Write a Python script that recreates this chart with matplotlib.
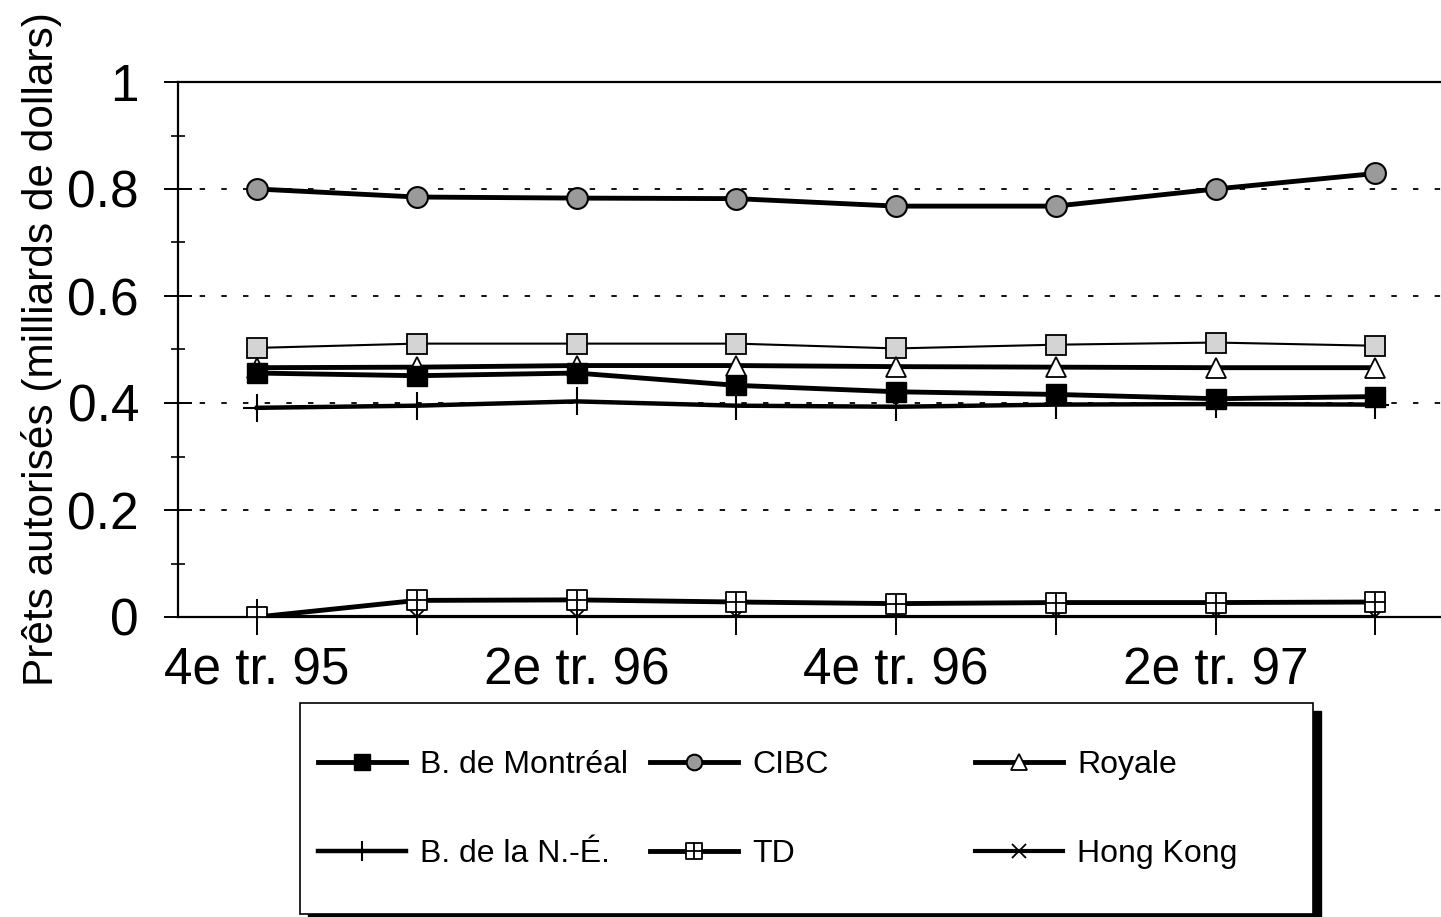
import matplotlib
matplotlib.use("Agg")
import matplotlib.pyplot as plt
from matplotlib.path import Path
from matplotlib.patches import Rectangle
from matplotlib.ticker import MultipleLocator

plt.rcParams["font.family"] = ["Liberation Sans", "DejaVu Sans"]

# quarters (only every second one is labelled on the axis)
quarters = ["4e tr. 95", "1er tr. 96", "2e tr. 96", "3e tr. 96",
            "4e tr. 96", "1er tr. 97", "2e tr. 97", "3e tr. 97"]

# authorised loans, billions of dollars
bmo = [0.456, 0.451, 0.456, 0.433, 0.421, 0.416, 0.408, 0.412]
cibc = [0.800, 0.785, 0.783, 0.782, 0.768, 0.768, 0.800, 0.829]
royale = [0.466, 0.467, 0.470, 0.470, 0.468, 0.467, 0.466, 0.466]
bns = [0.391, 0.395, 0.403, 0.395, 0.393, 0.397, 0.398, 0.397]
td = [0.000, 0.031, 0.032, 0.028, 0.025, 0.027, 0.027, 0.028]
hongkong = [0.000, 0.000, 0.000, 0.000, 0.000, 0.000, 0.000, 0.000]
autre = [0.503, 0.511, 0.511, 0.511, 0.502, 0.509, 0.513, 0.507]  # not in legend

W, H = 1441, 917
fig = plt.figure(figsize=(W / 100, H / 100), dpi=100)
ax = fig.add_axes([178 / W, 1 - 617 / H, (W - 178) / W, (617 - 82) / H])

x = list(range(len(quarters)))

# square with a cross inside, for TD
boxplus = Path([(-1, -1), (1, -1), (1, 1), (-1, 1), (-1, -1),
                (0, -1), (0, 1), (-1, 0), (1, 0)],
               [Path.MOVETO, Path.LINETO, Path.LINETO, Path.LINETO, Path.CLOSEPOLY,
                Path.MOVETO, Path.LINETO, Path.MOVETO, Path.LINETO])

ax.plot(x, autre, color="black", lw=1.5, marker="s", ms=15,
        mfc="#d4d4d4", mec="black", mew=1.3, zorder=3)
l_roy, = ax.plot(x, royale, color="black", lw=3.5, marker="^", ms=15,
                 mfc="white", mec="black", mew=1.3, zorder=4, label="Royale")
l_bmo, = ax.plot(x, bmo, color="black", lw=3.5, marker="s", ms=15,
                 mfc="black", mec="black", zorder=5, label="B. de Montréal")
l_cibc, = ax.plot(x, cibc, color="black", lw=3.5, marker="o", ms=15,
                  mfc="#9a9a9a", mec="black", mew=1.5, zorder=5, label="CIBC")
l_bns, = ax.plot(x, bns, color="black", lw=3.2, marker="+", ms=20,
                 mew=1.5, zorder=5, label="B. de la N.-É.")
l_hk, = ax.plot(x, hongkong, color="black", lw=3.0, marker="x", ms=14,
                mew=1.3, zorder=5, label="Hong Kong")
l_td, = ax.plot(x, td, color="black", lw=3.5, marker=boxplus, ms=15,
                mfc="white", mec="black", mew=1.3, zorder=6, label="TD")

ax.set_xlim(-0.494, 7.41)
ax.set_ylim(0, 1)
ax.set_xticks(x)
ax.set_xticklabels([q if i % 2 == 0 else "" for i, q in enumerate(quarters)])
ax.set_yticks([0, 0.2, 0.4, 0.6, 0.8, 1])
ax.set_yticklabels(["0", "0.2", "0.4", "0.6", "0.8", "1"])
ax.yaxis.set_minor_locator(MultipleLocator(0.1))

ax.tick_params(axis="both", which="major", direction="inout", width=1.4,
               labelsize=37, color="black")
ax.tick_params(axis="y", which="major", length=20, pad=18)
ax.tick_params(axis="x", which="major", length=26, pad=8)
ax.tick_params(axis="y", which="minor", direction="inout", length=10, width=1.2)

ax.set_ylabel("Prêts autorisés (milliards de dollars)", fontsize=30.5, labelpad=4)

for yv in [0.2, 0.4, 0.6, 0.8]:
    ax.axhline(yv, color="black", lw=1.3, ls=(0, (3, 9)), zorder=1)

ax.spines["right"].set_visible(False)
for s in ("left", "top", "bottom"):
    ax.spines[s].set_linewidth(1.6)

# legend box with a drop shadow on the right
bx0, bx1, by0, by1 = 300, 1313, 703, 914
fig.patches.append(Rectangle(((bx0 + 8) / W, 1 - (by1 + 8) / H), (bx1 - bx0) / W,
                             (by1 - by0) / H, transform=fig.transFigure,
                             facecolor="black", edgecolor="black", zorder=0))
fig.patches.append(Rectangle((bx0 / W, 1 - by1 / H), (bx1 - bx0) / W,
                             (by1 - by0) / H, transform=fig.transFigure,
                             facecolor="white", edgecolor="black", lw=1.2, zorder=1))

columns = [([l_bmo, l_bns], 318), ([l_cibc, l_td], 650), ([l_roy, l_hk], 975)]
for handles, xs in columns:
    fig.legend(handles=handles, loc="center left",
               bbox_to_anchor=(xs / W, 1 - 809.5 / H), frameon=False,
               fontsize=23, handlelength=2.75, handletextpad=0.45,
               labelspacing=1.85, borderpad=0, borderaxespad=0, markerscale=0.75)

fig.savefig("out.png", dpi=100, facecolor="white")
